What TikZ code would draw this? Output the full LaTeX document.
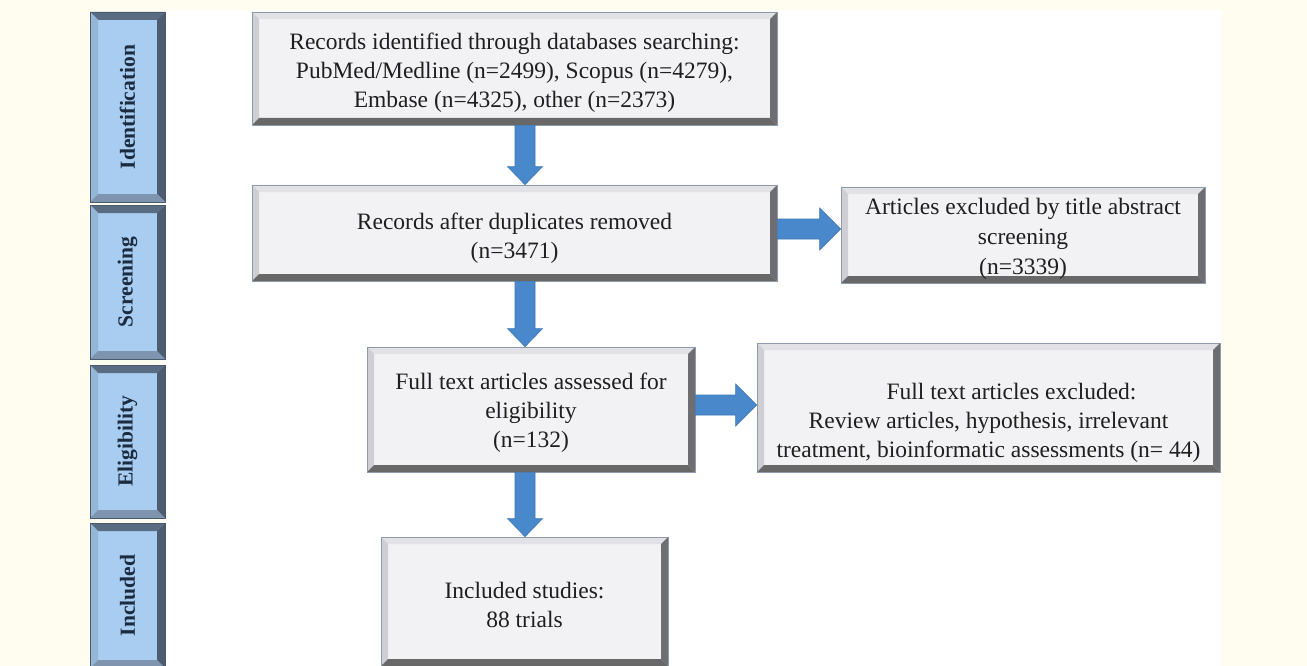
\documentclass[tikz,border=0pt]{standalone}
\usepackage{fontspec}
\usepackage{graphicx}
\setmainfont{Liberation Serif}
\usetikzlibrary{calc}
\definecolor{cream}{HTML}{FFFCF0}
\definecolor{gface}{HTML}{F2F2F4}
\definecolor{gtop}{HTML}{E2E2E6}
\definecolor{gleft}{HTML}{CFCFD3}
\definecolor{gright}{HTML}{6E6E72}
\definecolor{gbot}{HTML}{686868}
\definecolor{gline}{HTML}{8C9AAA}
\definecolor{pface}{HTML}{A8CDF1}
\definecolor{ptop}{HTML}{5A6C82}
\definecolor{pright}{HTML}{4D5C70}
\definecolor{pbot}{HTML}{7F95AF}
\definecolor{pleft}{HTML}{96B6D6}
\definecolor{pline}{HTML}{4A5A6E}
\definecolor{ablue}{HTML}{4A88CC}
\definecolor{aedge}{HTML}{3D77B6}
\definecolor{ptext}{HTML}{1B2B40}
\newcommand\bevelpic[5]{%
  \coordinate (bnw) at (path picture bounding box.north west);
  \coordinate (bne) at (path picture bounding box.north east);
  \coordinate (bsw) at (path picture bounding box.south west);
  \coordinate (bse) at (path picture bounding box.south east);
  \fill[#1] (bnw) -- (bne) -- ([shift={(-#5,-#5)}]bne) -- ([shift={(#5,-#5)}]bnw) -- cycle;
  \fill[#4] (bnw) -- (bsw) -- ([shift={(#5,#5)}]bsw) -- ([shift={(#5,-#5)}]bnw) -- cycle;
  \fill[#2] (bne) -- (bse) -- ([shift={(-#5,#5)}]bse) -- ([shift={(-#5,-#5)}]bne) -- cycle;
  \fill[#3] (bsw) -- (bse) -- ([shift={(-#5,#5)}]bse) -- ([shift={(#5,#5)}]bsw) -- cycle;
}
\newcommand\varrow[2]{%
  \filldraw[arr] let \p1=(#1), \p2=(#2) in
    (\x1-10pt,\y1) -- (\x1-10pt,\y2+18pt) -- (\x1-17.5pt,\y2+18pt) -- (\x1,\y2)
    -- (\x1+17.5pt,\y2+18pt) -- (\x1+10pt,\y2+18pt) -- (\x1+10pt,\y1) -- cycle;}
\newcommand\harrow[2]{%
  \filldraw[arr] let \p1=(#1), \p2=(#2) in
    (\x1,\y1-10pt) -- (\x2-21pt,\y1-10pt) -- (\x2-21pt,\y1-21pt) -- (\x2,\y1)
    -- (\x2-21pt,\y1+21pt) -- (\x2-21pt,\y1+10pt) -- (\x1,\y1+10pt) -- cycle;}
\newcommand\dn[1]{\rule{0pt}{#1}}
\tikzset{
  gbox/.style={rectangle, draw=gline, line width=0.7pt, fill=gface, inner sep=0pt,
    align=center, text=black!88, font=\fontsize{23.5}{29}\selectfont,
    path picture={\bevelpic{gtop}{gright}{gbot}{gleft}{7pt}}},
  pbox/.style={rectangle, draw=pline, line width=0.7pt, fill=pface, inner sep=0pt,
    text=ptext, font=\fontsize{21.5}{26}\selectfont\bfseries,
    minimum width=75pt,
    path picture={\bevelpic{ptop}{pright}{pbot}{pleft}{8pt}}},
  arr/.style={fill=ablue, draw=aedge, line width=0.6pt}
}
\begin{document}
\begin{tikzpicture}[x=1pt,y=-1pt]
\clip (0,0) rectangle (1307,666);
\fill[cream] (0,0) rectangle (1307,666);
\fill[white] (165,10) rectangle (1222,666);
% phase boxes
\node[pbox, minimum height=190pt] (p1) at (127.5,107) {\rotatebox{90}{Identification}};
\node[pbox, minimum height=154pt] (p2) at (127.5,282) {\rotatebox{90}{Screening}};
\node[pbox, minimum height=153pt] (p3) at (127.5,441.5) {\rotatebox{90}{Eligibility}};
\node[pbox, minimum height=145pt] (p4) at (127.5,595.5) {\rotatebox{90}{Included}};
% main boxes
\node[gbox, minimum width=525pt, minimum height=113pt] (b1) at (514.5,68.5)
  {\dn{26pt}Records identified through databases searching:\\PubMed/Medline (n=2499), Scopus (n=4279),\\Embase (n=4325), other (n=2373)};
\node[gbox, minimum width=525pt, minimum height=96pt] (b2) at (514.5,233)
  {\dn{28pt}Records after duplicates removed\\(n=3471)};
\node[gbox, minimum width=364pt, minimum height=96pt, font=\fontsize{23.5}{30}\selectfont] (b3) at (1023,235)
  {\dn{24pt}Articles excluded by title abstract\\screening\\(n=3339)};
\node[gbox, minimum width=328pt, minimum height=125pt] (b4) at (531,409.5)
  {\dn{22pt}Full text articles assessed for\\eligibility\\(n=132)};
\node[gbox, minimum width=463pt, minimum height=129pt] (b5) at (988.5,407.5)
  {\dn{46pt}\hspace*{46pt}Full text articles excluded:\\Review articles, hypothesis, irrelevant\\treatment, bioinformatic assessments (n= 44)};
\node[gbox, minimum width=287pt, minimum height=129pt] (b6) at (524.5,601.5)
  {\dn{24pt}Included studies:\\88 trials};
% arrows
\varrow{[xshift=10.5pt]b1.south}{b2.north}
\varrow{[xshift=10.5pt]b2.south}{b4.north}
\varrow{[xshift=-6pt]b4.south}{b6.north}
\harrow{[yshift=4pt]b2.east}{b3.west}
\harrow{[yshift=4.5pt]b4.east}{b5.west}
\end{tikzpicture}
\end{document}
